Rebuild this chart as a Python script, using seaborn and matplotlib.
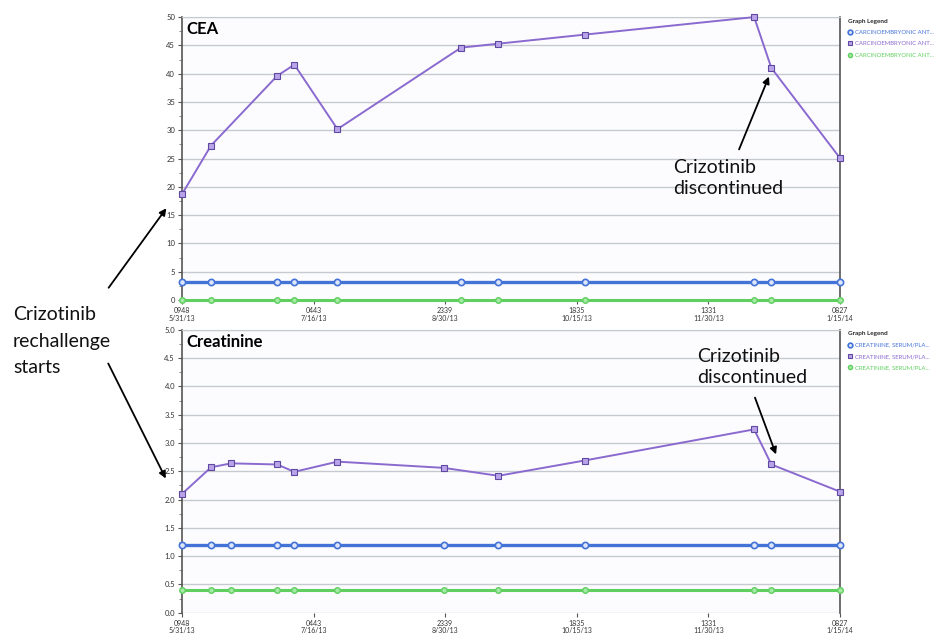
import matplotlib
matplotlib.use('Agg')
import pandas as pd
import seaborn as sns
import matplotlib.pyplot as plt
from matplotlib.patches import FancyArrowPatch
from matplotlib.ticker import MultipleLocator

# CEA panel
cea_dates = ['2013-05-31 09:48', '2013-06-10 12:00', '2013-07-03 12:00', '2013-07-09 12:00', '2013-07-24 12:00',
             '2013-09-05 12:00', '2013-09-18 12:00', '2013-10-18 12:00', '2013-12-16 12:00', '2013-12-22 12:00',
             '2014-01-15 08:27']
cea_values = [18.7, 27.3, 39.6, 41.6, 30.2, 44.6, 45.3, 46.9, 50.0, 41.0, 25.1]
cea_high = [3.2, 3.2, 3.2, 3.2, 3.2, 3.2, 3.2, 3.2, 3.2, 3.2, 3.2]
cea_low = [0.0, 0.0, 0.0, 0.0, 0.0, 0.0, 0.0, 0.0, 0.0, 0.0, 0.0]

# Creatinine panel
cr_dates = ['2013-05-31 09:48', '2013-06-10 12:00', '2013-06-17 12:00', '2013-07-03 12:00', '2013-07-09 12:00',
            '2013-07-24 12:00', '2013-08-30 12:00', '2013-09-18 12:00', '2013-10-18 12:00', '2013-12-16 12:00',
            '2013-12-22 12:00', '2014-01-15 08:27']
cr_values = [2.10, 2.57, 2.64, 2.62, 2.49, 2.67, 2.56, 2.42, 2.69, 3.24, 2.62, 2.14]
cr_high = [1.2, 1.2, 1.2, 1.2, 1.2, 1.2, 1.2, 1.2, 1.2, 1.2, 1.2, 1.2]
cr_low = [0.4, 0.4, 0.4, 0.4, 0.4, 0.4, 0.4, 0.4, 0.4, 0.4, 0.4, 0.4]

tick_labels = ['0948\n5/31/13', '0443\n7/16/13', '2339\n8/30/13',
               '1835\n10/15/13', '1331\n11/30/13', '0827\n1/15/14']
cea_legend = ['CARCINOEMBRYONIC ANT...'] * 3
cr_legend = ['CREATININE, SERUM/PLA...'] * 3

blue = '#4473d8'
purple = '#8a6acf'
green = '#5fcf5f'

sns.set_style('white')
plt.rcParams['font.family'] = ['Lato', 'DejaVu Sans']

fig = plt.figure(figsize=(9.48, 6.33), dpi=100)
ax1 = fig.add_axes([0.192, 0.526, 0.694, 0.447])
ax2 = fig.add_axes([0.192, 0.032, 0.694, 0.447])


def draw_panel(ax, dates, values, high, low, title, ymax, step, fmt, legend_labels):
    d = pd.to_datetime(dates, format='%Y-%m-%d %H:%M')
    df = pd.DataFrame({'date': d, 'value': values, 'high': high, 'low': low})
    ax.set_facecolor('#fcfcfe')
    sns.lineplot(data=df, x='date', y='high', ax=ax, color=blue, lw=2.4, marker='o', ms=4.5,
                 mfc='#dfe6fa', mec=blue, mew=1.2, label=legend_labels[0], clip_on=False, zorder=3)
    sns.lineplot(data=df, x='date', y='value', ax=ax, color=purple, lw=1.4, marker='s', ms=4,
                 mfc='#b9a4ea', mec='#5e48a0', mew=0.8, label=legend_labels[1], clip_on=False, zorder=4)
    sns.lineplot(data=df, x='date', y='low', ax=ax, color=green, lw=2.2, marker='o', ms=4,
                 mfc='#a6e8a6', mec=green, mew=1.0, label=legend_labels[2], clip_on=False, zorder=3)

    ax.set_xlim(d[0], d[-1])
    ticks = pd.date_range(d[0], d[-1], periods=6)
    ax.set_xticks(ticks)
    ax.set_xticklabels(tick_labels, fontsize=5, color='#333333', linespacing=1.1)
    ax.yaxis.set_major_locator(MultipleLocator(step))
    ax.yaxis.set_minor_locator(MultipleLocator(step / 2))
    ax.set_ylim(0, ymax)
    ax.set_yticks(ax.get_yticks())
    ax.set_yticklabels([fmt % v for v in ax.get_yticks()], fontsize=5.5, color='#333333')
    ax.set_ylim(0, ymax)
    ax.tick_params(axis='both', which='major', length=3, width=0.8, color='#555555', pad=2,
                   bottom=True, left=True)
    ax.tick_params(axis='y', which='minor', length=2, width=0.6, color='#777777', left=True)
    ax.grid(axis='y', color='#c6c9cf', lw=1.0)
    ax.set_xlabel('')
    ax.set_ylabel('')
    for side in ['left', 'right']:
        ax.spines[side].set_color('#555555')
        ax.spines[side].set_linewidth(1.2)
    ax.spines['top'].set_color('#c6c9cf')
    ax.spines['bottom'].set_visible(False)
    ax.text(0.006, 0.985, title, transform=ax.transAxes, fontsize=12, fontweight='bold',
            va='top', ha='left', color='black')

    leg = ax.legend(loc='upper left', bbox_to_anchor=(1.012, 0.995), frameon=False, fontsize=4.3,
                    title='Graph Legend', title_fontsize=4.6, handlelength=0.7, handletextpad=0.5,
                    borderaxespad=0, labelspacing=1.05, markerscale=0.75, borderpad=0)
    leg.get_title().set_fontweight('bold')
    leg._legend_box.align = 'left'
    for line in leg.get_lines():
        line.set_linewidth(0)
    for txt, col in zip(leg.get_texts(), [blue, purple, green]):
        txt.set_color(col)


draw_panel(ax1, cea_dates, cea_values, cea_high, cea_low, 'CEA', 50, 5, '%d', cea_legend)
draw_panel(ax2, cr_dates, cr_values, cr_high, cr_low, 'Creatinine', 5.0, 0.5, '%.1f', cr_legend)

# annotations
arrow = dict(arrowstyle='-|>', color='black', lw=1.3, mutation_scale=10)
fig.text(13 / 948, 1 - 341 / 633, 'Crizotinib\nrechallenge\nstarts', va='center', ha='left',
         fontsize=14, color='#111111', linespacing=1.7)
fig.add_artist(FancyArrowPatch((107 / 948, 1 - 290 / 633), (168 / 948, 1 - 206 / 633),
                               transform=fig.transFigure, **arrow))
fig.add_artist(FancyArrowPatch((107 / 948, 1 - 361 / 633), (167 / 948, 1 - 481 / 633),
                               transform=fig.transFigure, **arrow))

fig.text(673 / 948, 1 - 178 / 633, 'Crizotinib\ndiscontinued', va='center', ha='left',
         fontsize=14, color='#111111', linespacing=1.3)
fig.add_artist(FancyArrowPatch((738 / 948, 1 - 152 / 633), (770 / 948, 1 - 74 / 633),
                               transform=fig.transFigure, **arrow))

fig.text(697 / 948, 1 - 367 / 633, 'Crizotinib\ndiscontinued', va='center', ha='left',
         fontsize=14, color='#111111', linespacing=1.3)
fig.add_artist(FancyArrowPatch((754 / 948, 1 - 395 / 633), (777 / 948, 1 - 457 / 633),
                               transform=fig.transFigure, **arrow))

fig.savefig('out.png', dpi=100, facecolor='white')
